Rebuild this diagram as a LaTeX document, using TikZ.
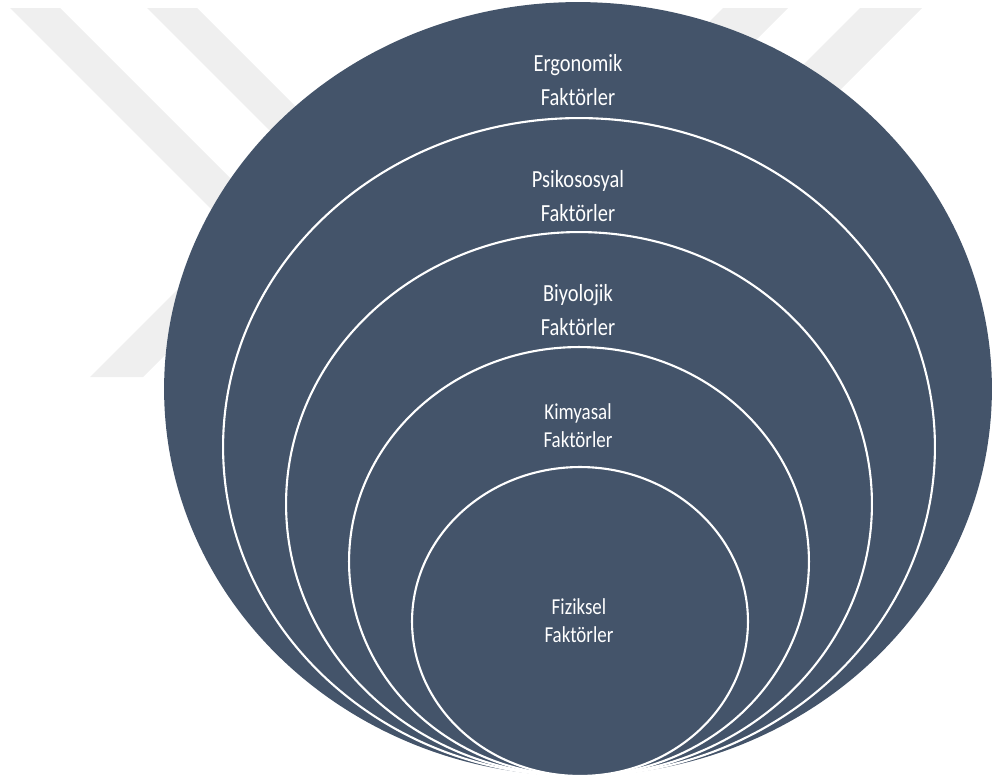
\documentclass[tikz,border=0pt]{standalone}
\usepackage{fontspec}
\setmainfont{Carlito}[FakeStretch=0.83]
\usetikzlibrary{shapes.geometric}
\definecolor{slate}{HTML}{44546A}
\definecolor{wmark}{HTML}{EFEFEF}
\begin{document}
\begin{tikzpicture}[x=0.02cm, y=-0.02cm,
    ring/.style={ellipse, fill=slate, draw=white, line width=1.2pt, inner sep=0pt},
    bigtxt/.style={align=center, text=white, font=\fontsize{14}{19}\selectfont},
    smalltxt/.style={align=center, text=white, font=\fontsize{13}{16}\selectfont},
    stripe/.style={fill=wmark, draw=none}
]
    \useasboundingbox (0,0) rectangle (992,781);

    % Watermark stripes
    \fill[stripe] (10,8) -- (60,8) -- (460,408) -- (410,408) -- cycle;
    \fill[stripe] (147,8) -- (197,8) -- (497,308) -- (447,308) -- cycle;
    \fill[stripe] (90,377) -- (143,377) -- (443,77) -- (390,77) -- cycle;
    \fill[stripe] (723,8) -- (788,8) -- (488,308) -- (423,308) -- cycle;
    \fill[stripe] (860,8) -- (922,8) -- (622,308) -- (560,308) -- cycle;

    % Nested rings
    \node[ring, draw=none, minimum width=16.56cm, minimum height=15.48cm] (ergonomik) at (578,389) {};
    \node[ring, minimum width=14.24cm, minimum height=13.16cm] (psikososyal) at (579,447) {};
    \node[ring, minimum width=11.72cm, minimum height=10.88cm] (biyolojik) at (579,504) {};
    \node[ring, minimum width=9.2cm, minimum height=8.58cm] (kimyasal) at (579,561.5) {};
    \node[ring, minimum width=6.72cm, minimum height=6.18cm] (fiziksel) at (580,621.5) {};

    % Labels
    \node[bigtxt] (ergonomikTxt) at (578,80) {Ergonomik\\Faktörler};
    \node[bigtxt] (psikososyalTxt) at (578,196) {Psikososyal\\Faktörler};
    \node[bigtxt] (biyolojikTxt) at (578,310) {Biyolojik\\Faktörler};
    \node[smalltxt] (kimyasalTxt) at (578,426) {Kimyasal\\Faktörler};
    \node[smalltxt] (fizikselTxt) at (579,621) {Fiziksel\\Faktörler};

\end{tikzpicture}
\end{document}
